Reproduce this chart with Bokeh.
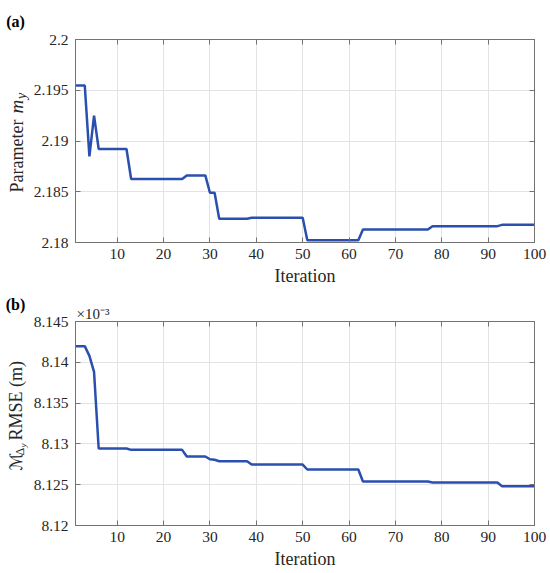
from math import pi
from bokeh.plotting import figure
from bokeh.layouts import column, row
from bokeh.models import FixedTicker, LinearAxis, CustomJSTickFormatter, Range1d, Title
from bokeh.core.properties import value
from bokeh.embed import file_html
from bokeh.resources import INLINE

# ---------------- data ----------------
iterations = list(range(1, 101))

# panel (a): parameter m_y per iteration
param_my = [
    2.19546, 2.19546, 2.19546, 2.18849, 2.19250, 2.18921, 2.18921, 2.18921, 2.18921, 2.18921,
    2.18921, 2.18921, 2.18625, 2.18625, 2.18625, 2.18625, 2.18625, 2.18625, 2.18625, 2.18625,
    2.18625, 2.18625, 2.18625, 2.18625, 2.18661, 2.18661, 2.18661, 2.18661, 2.18661, 2.18490,
    2.18490, 2.18234, 2.18234, 2.18234, 2.18234, 2.18234, 2.18234, 2.18234, 2.18244, 2.18244,
    2.18244, 2.18244, 2.18244, 2.18244, 2.18244, 2.18244, 2.18244, 2.18244, 2.18244, 2.18244,
    2.18023, 2.18023, 2.18023, 2.18023, 2.18023, 2.18023, 2.18023, 2.18023, 2.18023, 2.18023,
    2.18023, 2.18023, 2.18128, 2.18128, 2.18128, 2.18128, 2.18128, 2.18128, 2.18128, 2.18128,
    2.18128, 2.18128, 2.18128, 2.18128, 2.18128, 2.18128, 2.18128, 2.18161, 2.18161, 2.18161,
    2.18161, 2.18161, 2.18161, 2.18161, 2.18161, 2.18161, 2.18161, 2.18161, 2.18161, 2.18161,
    2.18161, 2.18161, 2.18174, 2.18174, 2.18174, 2.18174, 2.18174, 2.18174, 2.18174, 2.18174,
]

# panel (b): RMSE in units of 1e-3 m
rmse_e3 = [
    8.14198, 8.14198, 8.14198, 8.14079, 8.13883, 8.12944, 8.12944, 8.12944, 8.12944, 8.12944,
    8.12944, 8.12944, 8.12927, 8.12927, 8.12927, 8.12927, 8.12927, 8.12927, 8.12927, 8.12927,
    8.12927, 8.12927, 8.12927, 8.12927, 8.12846, 8.12846, 8.12846, 8.12846, 8.12846, 8.12812,
    8.12805, 8.12788, 8.12788, 8.12788, 8.12788, 8.12788, 8.12788, 8.12788, 8.12747, 8.12747,
    8.12747, 8.12747, 8.12747, 8.12747, 8.12747, 8.12747, 8.12747, 8.12747, 8.12747, 8.12747,
    8.12686, 8.12686, 8.12686, 8.12686, 8.12686, 8.12686, 8.12686, 8.12686, 8.12686, 8.12686,
    8.12686, 8.12686, 8.12539, 8.12539, 8.12539, 8.12539, 8.12539, 8.12539, 8.12539, 8.12539,
    8.12539, 8.12539, 8.12539, 8.12539, 8.12539, 8.12539, 8.12539, 8.12527, 8.12527, 8.12527,
    8.12527, 8.12527, 8.12527, 8.12527, 8.12527, 8.12527, 8.12527, 8.12527, 8.12527, 8.12527,
    8.12527, 8.12527, 8.12482, 8.12482, 8.12482, 8.12482, 8.12482, 8.12482, 8.12482, 8.12482,
]

x_ticks = [10, 20, 30, 40, 50, 60, 70, 80, 90, 100]
x_tick_labels = ["10", "20", "30", "40", "50", "60", "70", "80", "90", "100"]
my_ticks = [2.18, 2.185, 2.19, 2.195, 2.2]
my_tick_labels = ["2.18", "2.185", "2.19", "2.195", "2.2"]
rmse_ticks = [8.12, 8.125, 8.13, 8.135, 8.14, 8.145]
rmse_tick_labels = ["8.12", "8.125", "8.13", "8.135", "8.14", "8.145"]

# ---------------- style ----------------
FONT = "Liberation Serif"
TXT = "#262626"
BOX = "#737373"
GRID = "#e3e3e3"
LINE = "#2a4fae"
LEFT_W = 30
MAIN_W = 520
B1 = dict(top=39, bottom=47)     # frame 203 px
B2 = dict(top=32, bottom=48)     # frame 204 px
H1 = B1["top"] + 203 + B1["bottom"]
H2 = B2["top"] + 204 + B2["bottom"]


def style(p, yticks, ylabels):
    p.outline_line_color = BOX
    p.outline_line_width = 1
    p.xgrid.ticker = FixedTicker(ticks=x_ticks)
    p.ygrid.ticker = FixedTicker(ticks=yticks)
    for g in (p.xgrid, p.ygrid):
        g.grid_line_color = GRID
        g.grid_line_width = 1
    xa = p.xaxis[0]
    ya = p.yaxis[0]
    xa.ticker = FixedTicker(ticks=x_ticks)
    xa.major_label_overrides = dict(zip(x_ticks, x_tick_labels))
    ya.ticker = FixedTicker(ticks=yticks)
    ya.major_label_overrides = dict(zip(yticks, ylabels))
    for a in (xa, ya):
        a.axis_line_color = BOX
        a.major_tick_line_color = BOX
        a.major_tick_in = 5
        a.major_tick_out = 0
        a.minor_tick_line_color = None
        a.major_label_text_font = FONT
        a.major_label_text_font_size = "15.5px"
        a.major_label_text_color = TXT
        a.major_label_standoff = 7
    xa.major_label_standoff = 6
    xa.axis_label = "Iteration"
    xa.axis_label_text_font = FONT
    xa.axis_label_text_font_size = "18px"
    xa.axis_label_text_font_style = "normal"
    xa.axis_label_text_color = TXT
    xa.axis_label_standoff = 4
    top = LinearAxis(ticker=FixedTicker(ticks=x_ticks),
                     formatter=CustomJSTickFormatter(code="return ''"))
    right = LinearAxis(ticker=FixedTicker(ticks=yticks),
                       formatter=CustomJSTickFormatter(code="return ''"))
    for a in (top, right):
        a.axis_line_color = BOX
        a.major_tick_line_color = BOX
        a.major_tick_in = 5
        a.major_tick_out = 0
        a.minor_tick_line_color = None
        a.major_label_standoff = 0
        a.major_label_text_font_size = "1px"
    p.add_layout(top, "above")
    p.add_layout(right, "right")


def text_fig(h, b, tag, tag_standoff):
    frame_h = h - b["top"] - b["bottom"]
    t = figure(width=LEFT_W, height=h, x_range=Range1d(0, LEFT_W), y_range=Range1d(0, frame_h),
               output_backend="svg", toolbar_location=None,
               x_axis_location=None, y_axis_location=None,
               min_border_left=0, min_border_right=0,
               min_border_top=b["top"], min_border_bottom=b["bottom"])
    t.grid.visible = False
    t.outline_line_color = None
    # panel tag "(a)" / "(b)" drawn as the label of an invisible top axis
    ax = LinearAxis(ticker=FixedTicker(ticks=[]),
                    formatter=CustomJSTickFormatter(code="return ''"),
                    axis_label=tag, axis_label_standoff=tag_standoff,
                    axis_label_text_font=FONT, axis_label_text_font_size="16px",
                    axis_label_text_font_style="bold", axis_label_text_color="#000000")
    ax.axis_line_color = None
    ax.major_tick_line_color = None
    ax.minor_tick_line_color = None
    ax.major_tick_in = 0
    ax.major_tick_out = 0
    ax.major_label_standoff = 0
    ax.major_label_text_font_size = "1px"
    t.add_layout(ax, "above")
    return t


def txt(t, x, y, s, size, style_="normal", font=FONT):
    t.text(x=[x], y=[y], text=[s], angle=pi / 2, text_font=value(font),
           text_font_size=value(size), text_font_style=style_, text_color=TXT,
           text_align="left", text_baseline="alphabetic")


# ---------------- panel (a) ----------------
p1 = figure(width=MAIN_W, height=H1, x_range=(1, 100), y_range=(2.18, 2.2),
            output_backend="svg", toolbar_location=None,
            min_border_left=42, min_border_right=16,
            min_border_top=B1["top"], min_border_bottom=B1["bottom"])
p1.line(iterations, param_my, line_color=LINE, line_width=2.5)
style(p1, my_ticks, my_tick_labels)

t1 = text_fig(H1, B1, "(a)", 10)
txt(t1, 16, 50, "Parameter", "18px")
txt(t1, 16, 129, "m", "19px", style_="italic")
txt(t1, 21, 143.5, "y", "14px", style_="italic")

# ---------------- panel (b) ----------------
p2 = figure(width=MAIN_W, height=H2, x_range=(1, 100), y_range=(8.12, 8.145),
            output_backend="svg", toolbar_location=None,
            min_border_left=42, min_border_right=16,
            min_border_top=B2["top"], min_border_bottom=B2["bottom"])
p2.line(iterations, rmse_e3, line_color=LINE, line_width=2.5)
style(p2, rmse_ticks, rmse_tick_labels)
p2.add_layout(Title(text="\u00d710\u207b\u00b3", align="left", offset=1, standoff=0,
                    text_font=FONT, text_font_size="15px", text_font_style="normal",
                    text_color=TXT), "above")

t2 = text_fig(H2, B2, "(b)", 9)
txt(t2, 15.4, 55, "\u2133", "17px", font="DejaVu Sans")
txt(t2, 19.5, 70, "\u0394", "12px")
txt(t2, 22.5, 78, "y", "9px", style_="italic")
txt(t2, 15, 85, "RMSE (m)", "18px")

layout = column(row(t1, p1, spacing=0), row(t2, p2, spacing=0), spacing=0)
open("out.html", "w").write(file_html(layout, INLINE))
